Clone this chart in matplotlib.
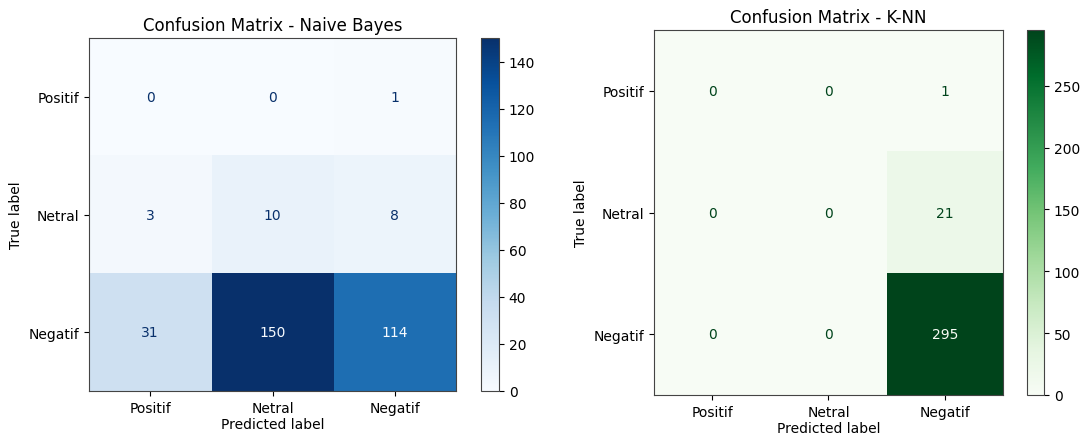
import matplotlib
matplotlib.use("Agg")
import matplotlib.pyplot as plt
import numpy as np

LABELS = ["Positif", "Netral", "Negatif"]

# confusion matrices (rows = true label, cols = predicted label)
CM_NB = [
    [0, 0, 1],
    [3, 10, 8],
    [31, 150, 114],
]
CM_KNN = [
    [0, 0, 1],
    [0, 0, 21],
    [0, 0, 295],
]

W, H = 1081, 439


def px_box(x0, y0, x1, y1):
    """pixel box (top-left origin) -> figure fraction rect"""
    return [x0 / W, 1 - y1 / H, (x1 - x0) / W, (y1 - y0) / H]


def draw_cm(fig, cm, title, cmap_name, ax_box, cax_box, cticks):
    cm = np.array(cm)
    cmap = plt.get_cmap(cmap_name)
    ax = fig.add_axes(px_box(*ax_box))
    cax = fig.add_axes(px_box(*cax_box))
    im = ax.imshow(cm, cmap=cmap, aspect="auto", interpolation="nearest",
                   vmin=cm.min(), vmax=cm.max())
    thresh = (cm.max() + cm.min()) / 2.0
    for i in range(cm.shape[0]):
        for j in range(cm.shape[1]):
            color = cmap(0.0) if cm[i, j] >= thresh else cmap(1.0)
            ax.text(j, i, format(cm[i, j], "d"), ha="center", va="center",
                    color=color, fontsize=10)
    ax.set_xticks(range(len(LABELS)))
    ax.set_xticklabels(LABELS)
    ax.set_yticks(range(len(LABELS)))
    ax.set_yticklabels(LABELS)
    ax.set_xlabel("Predicted label", labelpad=2)
    ax.set_ylabel("True label")
    ax.set_title(title, fontsize=12)
    for sp in list(ax.spines.values()) + list(cax.spines.values()):
        sp.set_edgecolor("#444444")
    cb = fig.colorbar(im, cax=cax)
    cb.outline.set_edgecolor("#444444")
    cb.set_ticks(cticks)
    return ax


def main():
    fig = plt.figure(figsize=(W / 100, H / 100), dpi=100)
    draw_cm(fig, CM_NB, "Confusion Matrix - Naive Bayes", "Blues",
            (89, 39, 456, 392), (481, 39, 499, 392), range(0, 141, 20))
    draw_cm(fig, CM_KNN, "Confusion Matrix - K-NN", "Greens",
            (654, 31, 1003, 396), (1027, 31, 1044, 396), range(0, 251, 50))
    fig.savefig("out.png", dpi=100)


if __name__ == "__main__":
    main()
